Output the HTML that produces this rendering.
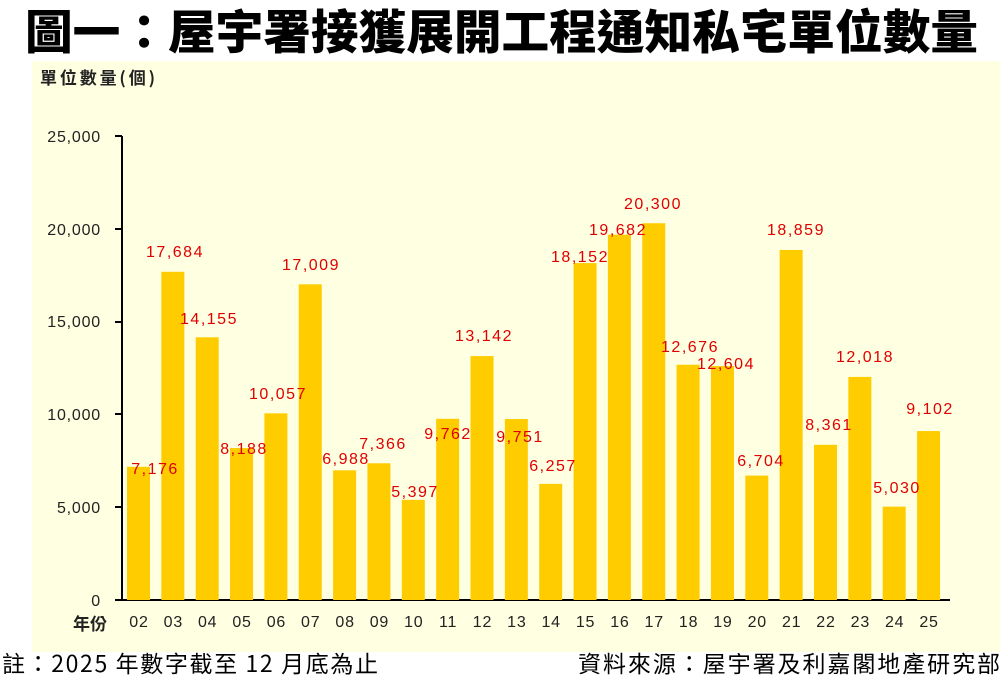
<!DOCTYPE html>
<html><head><meta charset="utf-8"><style>
body{margin:0;width:1007px;height:682px;background:#fff;overflow:hidden;font-family:"Liberation Sans","Noto Sans CJK TC",sans-serif}
</style></head><body>
<svg width="1007" height="682" xmlns="http://www.w3.org/2000/svg" font-family="Liberation Sans, Noto Sans CJK TC, sans-serif">
<text x="25" y="49" textLength="953" lengthAdjust="spacingAndGlyphs" font-size="47" font-weight="900" fill="#000" font-family="Noto Sans CJK TC, sans-serif">圖一：屋宇署接獲展開工程通知私宅單位數量</text>
<rect x="32" y="61" width="968" height="591" fill="#FFFFE1"/>
<text x="40" y="84" textLength="115" font-size="17" font-weight="bold" fill="#222" font-family="Noto Sans CJK TC, sans-serif">單位數量(個)</text>
<g font-size="16" fill="#222" text-anchor="end" letter-spacing="0.8">
<text x="101" y="142">25,000</text><text x="101" y="235">20,000</text><text x="101" y="327">15,000</text><text x="101" y="420">10,000</text><text x="101" y="513">5,000</text><text x="101" y="606">0</text>
</g>
<g stroke="#000" stroke-width="2">
<line x1="122" y1="136" x2="122" y2="600"/><line x1="115" y1="600" x2="950" y2="600"/>
<line x1="115" y1="136" x2="122" y2="136"/><line x1="115" y1="229" x2="122" y2="229"/><line x1="115" y1="322" x2="122" y2="322"/><line x1="115" y1="414" x2="122" y2="414"/><line x1="115" y1="507" x2="122" y2="507"/>
</g>
<g id="bars" fill="#FFCC00"></g>
<g id="xl" font-size="16" fill="#222" text-anchor="middle" letter-spacing="0.8"></g>
<text x="90" y="630" font-size="17" font-weight="bold" fill="#222" text-anchor="middle" font-family="Noto Sans CJK TC, sans-serif">年份</text>
<g id="vl" font-size="16" fill="#e00000" text-anchor="middle" letter-spacing="1.5"></g>
<text x="2" y="672" textLength="376" font-size="23" fill="#000" font-family="Noto Sans CJK TC, sans-serif">註：2025 年數字截至 12 月底為止</text>
<text x="578" y="672" textLength="422" font-size="23" fill="#000" font-family="Noto Sans CJK TC, sans-serif">資料來源：屋宇署及利嘉閣地產研究部</text>
</svg>
<script>
var v=[7176,17684,14155,8188,10057,17009,6988,7366,5397,9762,13142,9751,6257,18152,19682,20300,12676,12604,6704,18859,8361,12018,5030,9102];
var lx=[155,175,209,244,278,311,346,383,415,448,484,520,553,580,618,653,690,726,761,796,829,865,897,930];
var ly=[468,251,318,448,393,264,458,443,491,433,335,436,465,256,229,203,346,363,460,229,424,356,487,408];
var ns="http://www.w3.org/2000/svg",b=document.getElementById('bars'),xl=document.getElementById('xl'),vl=document.getElementById('vl');
for(var i=0;i<24;i++){var x=127+i*34.35,h=v[i]/25000*464;
var r=document.createElementNS(ns,'rect');r.setAttribute('x',x);r.setAttribute('y',600-h);r.setAttribute('width',23);r.setAttribute('height',h);b.appendChild(r);
var t=document.createElementNS(ns,'text');t.setAttribute('x',x+12);t.setAttribute('y',627);t.textContent=String(i+2).padStart(2,'0');xl.appendChild(t);
var u=document.createElementNS(ns,'text');u.setAttribute('x',lx[i]);u.setAttribute('y',ly[i]+6);u.textContent=v[i].toLocaleString('en-US');vl.appendChild(u);}
</script>
</body></html>
